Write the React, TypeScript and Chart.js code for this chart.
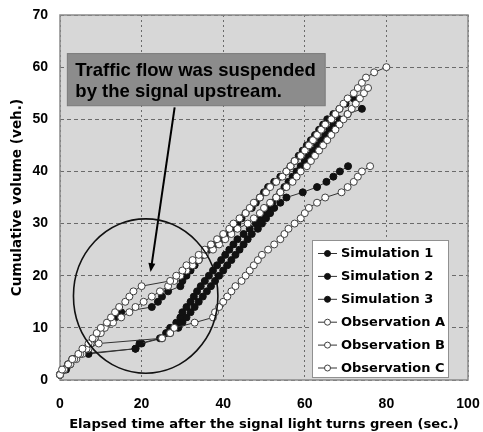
import React, { useEffect, useRef } from "react";
import { Chart, registerables } from "chart.js";

Chart.register(...registerables);

// ---------- Data ----------
const seriesLabels = [
  "Simulation 1",
  "Simulation 2",
  "Simulation 3",
  "Observation A",
  "Observation B",
  "Observation C",
];

const xTicks = [0, 20, 40, 60, 80, 100];
const yTicks = [0, 10, 20, 30, 40, 50, 60, 70];

const sim1X = [0, 1.5, 2.5, 3.5, 7, 18.5, 19.5, 24.5, 27, 29, 30, 31, 32, 33, 34, 35, 36, 37, 38, 39, 40, 41, 42, 43, 44, 45, 46, 47, 48.5, 49.5, 50.5, 51.5, 52.5, 54, 55.5, 59.5, 63, 65.3, 67, 68.6, 70.6];
const sim1Y = [1, 2, 3, 4, 5, 6, 7, 8, 9, 10, 11, 12, 13, 14, 15, 16, 17, 18, 19, 20, 21, 22, 23, 24, 25, 26, 27, 28, 29, 30, 31, 32, 33, 34, 35, 36, 37, 38, 39, 40, 41];

const sim2X = [0, 1, 2, 3, 5, 18.5, 20, 25, 26, 27, 28.5, 29.5, 30, 31, 32, 32.8, 33.6, 34.5, 35.5, 36.5, 37.5, 38.5, 39.5, 40.5, 41.5, 42.5, 43.5, 45, 46.5, 48, 49, 50, 51, 52, 53, 54, 55, 56, 57, 58, 59, 60, 61, 62, 63, 64, 65, 66, 67, 68.5, 70.5, 74];
const sim2Y = [1, 2, 3, 4, 5, 6, 7, 8, 9, 10, 11, 12, 13, 14, 15, 16, 17, 18, 19, 20, 21, 22, 23, 24, 25, 26, 27, 28, 29, 30, 31, 32, 33, 34, 35, 36, 37, 38, 39, 40, 41, 42, 43, 44, 45, 46, 47, 48, 49, 50, 51, 52];

const sim3X = [0, 1, 2, 3.5, 5, 6, 7.5, 8.5, 9.5, 10.5, 12, 13.5, 15, 22.5, 24, 25, 26.5, 29.5, 30, 31, 32, 33, 34, 35, 36.5, 38, 39.5, 41, 42.5, 43.5, 44.5, 45.5, 47, 48, 49, 50, 51, 52.5, 54, 55.5, 56.5, 57.5, 58.5, 59.5, 60.5, 61.5, 62.5, 63.5, 64.5, 65.5, 67, 68.5, 70, 72];
const sim3Y = [1, 2, 3, 4, 5, 6, 7, 8, 9, 10, 11, 12, 13, 14, 15, 16, 17, 18, 19, 20, 21, 22, 23, 24, 25, 26, 27, 28, 29, 30, 31, 32, 33, 34, 35, 36, 37, 38, 39, 40, 41, 42, 43, 44, 45, 46, 47, 48, 49, 50, 51, 52, 53, 54];

const obsAX = [0, 0.5, 2, 3, 4.5, 5.5, 7, 8, 9, 10, 11.5, 12.5, 13.5, 14.5, 16, 17, 18, 20, 27, 28.5, 30, 31, 32.5, 34, 35.5, 37, 38.5, 40, 41.5, 42.5, 44, 45.5, 46.5, 47.5, 49, 50.5, 51.5, 53, 54.5, 55.5, 56.5, 57.5, 59, 60, 61, 62, 63, 64, 65, 66.5, 67.5, 68.5, 69.5, 70.5, 72, 73, 74, 75, 77, 80];
const obsAY = [1, 2, 3, 4, 5, 6, 7, 8, 9, 10, 11, 12, 13, 14, 15, 16, 17, 18, 19, 20, 21, 22, 23, 24, 25, 26, 27, 28, 29, 30, 31, 32, 33, 34, 35, 36, 37, 38, 39, 40, 41, 42, 43, 44, 45, 46, 47, 48, 49, 50, 51, 52, 53, 54, 55, 56, 57, 58, 59, 60];

const obsBX = [0, 1, 2.5, 3.5, 5, 6.5, 7.5, 8.5, 10, 11, 13, 15, 17, 18.5, 20.5, 22.5, 24.5, 26.5, 28, 29.5, 31, 32.5, 34, 35.5, 37.5, 39, 40.5, 42, 43.5, 46, 47.5, 49, 50, 51.5, 53, 54, 55.5, 57, 58, 59, 60.5, 61.5, 62.5, 63.5, 64.5, 65.5, 66.5, 67.5, 68.5, 69.5, 70.5, 71.5, 72.5, 73.5, 74.5, 75.5];
const obsBY = [1, 2, 3, 4, 5, 6, 7, 8, 9, 10, 11, 12, 13, 14, 15, 16, 17, 18, 19, 20, 21, 22, 23, 24, 25, 26, 27, 28, 29, 30, 31, 32, 33, 34, 35, 36, 37, 38, 39, 40, 41, 42, 43, 44, 45, 46, 47, 48, 49, 50, 51, 52, 53, 54, 55, 56];

const obsCX = [0, 1, 2.5, 4, 5.5, 7, 9.5, 25, 27, 28, 33, 37.5, 38, 39, 40, 41, 42, 43, 44.5, 45.5, 46.5, 47.5, 48.5, 49.5, 51, 52.5, 54, 55, 56, 57.5, 59, 60, 61, 63, 65, 69, 70.5, 72, 73, 74, 76];
const obsCY = [1, 2, 3, 4, 5, 6, 7, 8, 9, 10, 11, 12, 13, 14, 15, 16, 17, 18, 19, 20, 21, 22, 23, 24, 25, 26, 27, 28, 29, 30, 31, 32, 33, 34, 35, 36, 37, 38, 39, 40, 41];

const annotationLines = ["Traffic flow was suspended", "by the signal upstream."];
const xTitle = "Elapsed time after the signal light turns green (sec.)";
const yTitle = "Cumulative volume (veh.)";

// ---------- helpers ----------
const toPoints = (xs: number[], ys: number[]) => xs.map((x, i) => ({ x, y: ys[i] }));
const BLACK = "#111111";
const WHITE_EDGE = "#404040";
const LINE = "#333333";
const isFilled = [true, true, true, false, false, false];

const TICK_FONT = { family: "Arial, 'Liberation Sans', sans-serif", weight: "bold" as const, size: 14 };
const TITLE_FAMILY = "'DejaVu Sans', sans-serif";

const decorPlugin = {
  id: "decor",
  beforeDraw(chart: any) {
    const { ctx, chartArea: a, width, height } = chart;
    ctx.save();
    ctx.fillStyle = "#ffffff";
    ctx.fillRect(0, 0, width, height);
    ctx.fillStyle = "#d7d7d7";
    ctx.fillRect(a.left, a.top, a.right - a.left, a.bottom - a.top);
    ctx.restore();
  },
  beforeDatasetsDraw(chart: any) {
    const { ctx, chartArea: a } = chart;
    ctx.save();
    ctx.strokeStyle = "#8a8a8a";
    ctx.lineWidth = 1.5;
    ctx.strokeRect(a.left, a.top, a.right - a.left, a.bottom - a.top);
    ctx.restore();
  },
  afterDraw(chart: any) {
    const { ctx, chartArea: a } = chart;
    const xs = chart.scales.x;
    const ys = chart.scales.y;
    const px = (v: number) => xs.getPixelForValue(v);
    const py = (v: number) => ys.getPixelForValue(v);
    ctx.save();

    // annotation box
    const bx0 = px(1.8), bx1 = px(65), by0 = py(62.6), by1 = py(52.6);
    ctx.fillStyle = "#8c8c8c";
    ctx.fillRect(bx0, by0, bx1 - bx0, by1 - by0);
    ctx.strokeStyle = "#7a7a7a";
    ctx.lineWidth = 1;
    ctx.strokeRect(bx0, by0, bx1 - bx0, by1 - by0);
    ctx.fillStyle = "#000";
    ctx.font = "bold 18.5px Arial, 'Liberation Sans', sans-serif";
    ctx.textBaseline = "middle";
    ctx.textAlign = "left";
    ctx.fillText(annotationLines[0], bx0 + 8, by0 + 17);
    ctx.fillText(annotationLines[1], bx0 + 8, by0 + 38);

    // arrow
    const ax0 = px(28.1), ay0 = py(52.3), ax1 = px(22.2), ay1 = py(20.7);
    ctx.strokeStyle = "#000";
    ctx.lineWidth = 2;
    ctx.beginPath();
    ctx.moveTo(ax0, ay0);
    const ang = Math.atan2(ay1 - ay0, ax1 - ax0);
    ctx.lineTo(ax1 - 6 * Math.cos(ang), ay1 - 6 * Math.sin(ang));
    ctx.stroke();
    ctx.fillStyle = "#000";
    ctx.beginPath();
    ctx.moveTo(ax1, ay1);
    ctx.lineTo(ax1 - 9 * Math.cos(ang) + 3.5 * Math.sin(ang), ay1 - 9 * Math.sin(ang) - 3.5 * Math.cos(ang));
    ctx.lineTo(ax1 - 9 * Math.cos(ang) - 3.5 * Math.sin(ang), ay1 - 9 * Math.sin(ang) + 3.5 * Math.cos(ang));
    ctx.closePath();
    ctx.fill();

    // ellipse
    const cx = px(21), cy = py(16.1);
    const rx = Math.abs(px(21 + 17.7) - cx), ry = Math.abs(py(16.1 + 14.8) - cy);
    ctx.strokeStyle = "#111";
    ctx.lineWidth = 1.6;
    ctx.beginPath();
    ctx.ellipse(cx, cy, rx, ry, 0, 0, Math.PI * 2);
    ctx.stroke();

    // legend
    const lx1 = a.right - 19, ly1 = a.bottom - 2;
    const lx0 = lx1 - 137, ly0 = ly1 - 138;
    ctx.fillStyle = "#ffffff";
    ctx.fillRect(lx0, ly0, lx1 - lx0, ly1 - ly0);
    ctx.strokeStyle = "#909090";
    ctx.lineWidth = 1;
    ctx.strokeRect(lx0 + 0.5, ly0 + 0.5, lx1 - lx0 - 1, ly1 - ly0 - 1);
    ctx.font = `bold 13px ${TITLE_FAMILY}`;
    ctx.textBaseline = "middle";
    seriesLabels.forEach((lab, i) => {
      const y = ly0 + 13.5 + i * 22.9;
      ctx.strokeStyle = LINE;
      ctx.lineWidth = 1;
      ctx.beginPath();
      ctx.moveTo(lx0 + 6, y);
      ctx.lineTo(lx0 + 25, y);
      ctx.stroke();
      ctx.beginPath();
      ctx.arc(lx0 + 15.5, y, 3, 0, Math.PI * 2);
      ctx.fillStyle = isFilled[i] ? BLACK : "#ffffff";
      ctx.fill();
      ctx.strokeStyle = isFilled[i] ? BLACK : WHITE_EDGE;
      ctx.stroke();
      ctx.fillStyle = "#000";
      ctx.fillText(lab, lx0 + 29, y + 0.5);
    });
    ctx.restore();
  },
};

export default function App() {
  const ref = useRef<HTMLCanvasElement | null>(null);
  useEffect(() => {
    document.body.style.margin = "0";
    if (!ref.current) return;
    const all = [
      toPoints(sim1X, sim1Y),
      toPoints(sim2X, sim2Y),
      toPoints(sim3X, sim3Y),
      toPoints(obsAX, obsAY),
      toPoints(obsBX, obsBY),
      toPoints(obsCX, obsCY),
    ];
    // whites first so they are painted on top (Chart.js paints the first dataset last)
    const order = [3, 4, 5, 0, 1, 2];
    const datasets = order.map((i) => ({
      label: seriesLabels[i],
      data: all[i],
      showLine: true,
      borderColor: LINE,
      borderWidth: 1,
      pointRadius: 3.5,
      pointBorderWidth: 1,
      pointBackgroundColor: isFilled[i] ? BLACK : "#ffffff",
      pointBorderColor: isFilled[i] ? BLACK : WHITE_EDGE,
      clip: false as any,
    }));
    const chart = new Chart(ref.current, {
      type: "scatter",
      data: { datasets },
      options: {
        responsive: false,
        animation: false,
        devicePixelRatio: 1,
        layout: { padding: { left: 0, right: 0, top: 0, bottom: 0 } },
        plugins: { legend: { display: false }, tooltip: { enabled: false } },
        scales: {
          x: {
            type: "linear",
            min: xTicks[0],
            max: xTicks[xTicks.length - 1],
            afterBuildTicks: (s: any) => { s.ticks = xTicks.map((v) => ({ value: v })); },
            afterFit: (s: any) => {
              s.height = 52;
              s.paddingLeft = 0;
              s.paddingRight = 15;
            },
            ticks: { font: TICK_FONT, color: "#000", padding: 16, maxRotation: 0 },
            grid: { color: "#6a6a6a", lineWidth: 1, drawTicks: false },
            border: { display: false, dash: [2, 3] },
            title: {
              display: true,
              text: xTitle,
              color: "#000",
              font: { family: TITLE_FAMILY, weight: "bold", size: 13.1 },
              padding: { top: 0, bottom: 0 },
            },
          },
          y: {
            type: "linear",
            min: yTicks[0],
            max: yTicks[yTicks.length - 1],
            afterBuildTicks: (s: any) => { s.ticks = yTicks.map((v) => ({ value: v })); },
            afterFit: (s: any) => {
              s.width = 60;
              s.paddingTop = 15;
              s.paddingBottom = 0;
            },
            ticks: { font: TICK_FONT, color: "#000", padding: 12 },
            grid: { color: "#6a6a6a", lineWidth: 1, drawTicks: false },
            border: { display: false, dash: [4, 3] },
            title: {
              display: true,
              text: yTitle,
              color: "#000",
              font: { family: TITLE_FAMILY, weight: "bold", size: 13.6 },
              padding: { top: 9.8, bottom: 0 },
            },
          },
        },
      },
      plugins: [decorPlugin],
    });
    return () => chart.destroy();
  }, []);
  return (
    <div style={{ width: 483, height: 432 }}>
      <canvas ref={ref} width={483} height={432} style={{ display: "block", width: 483, height: 432 }} />
    </div>
  );
}
